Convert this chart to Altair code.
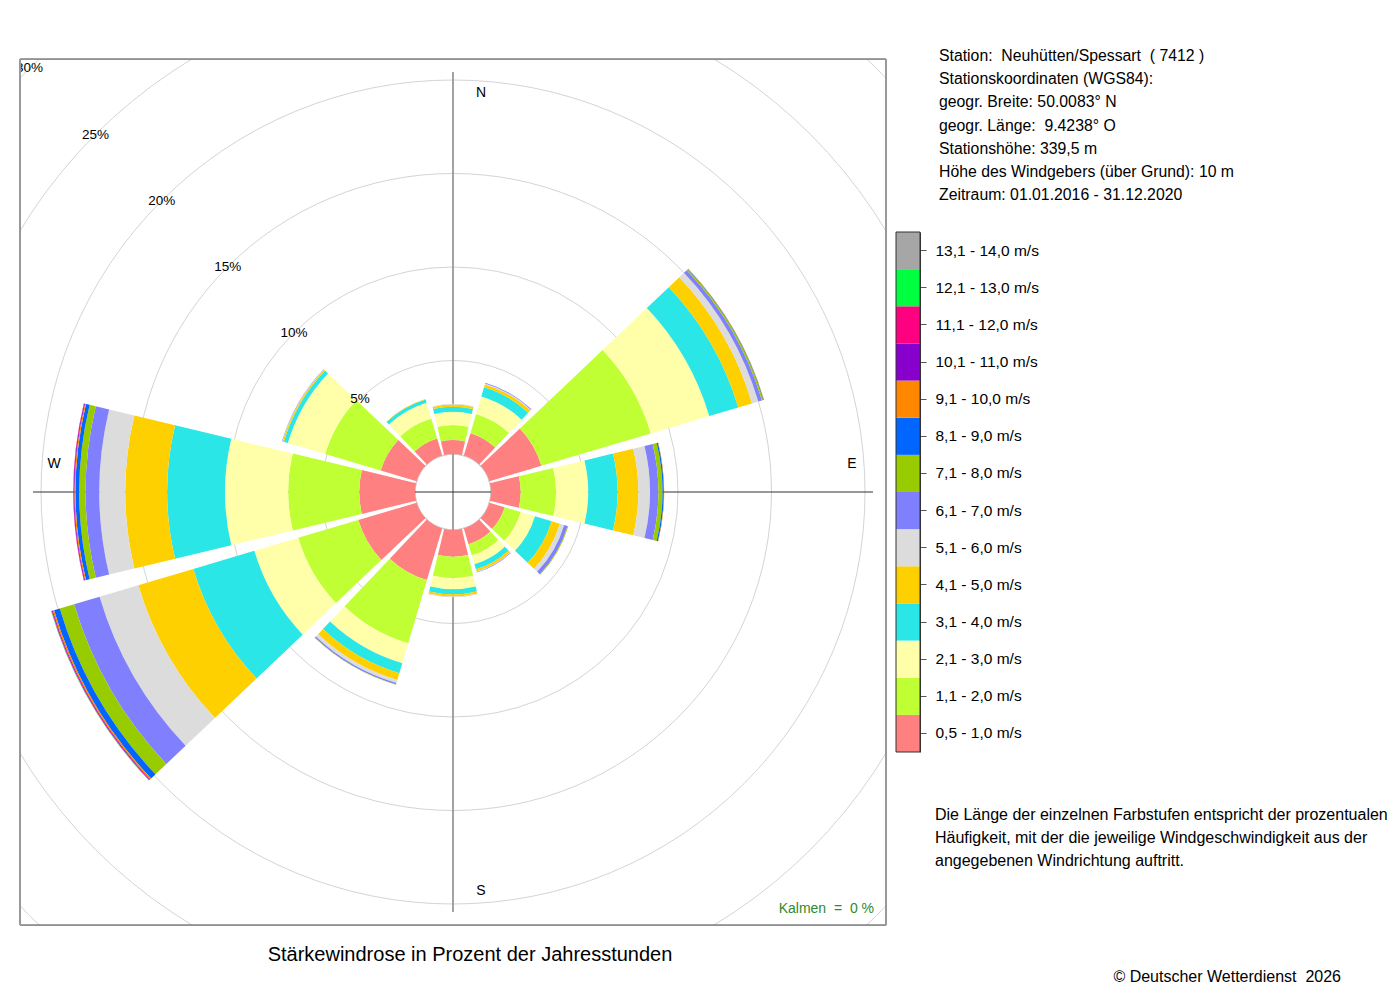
import math
import altair as alt
import pandas as pd

FONT = "Liberation Sans"
NB = "\u00a0"

# ---------------- data ----------------
directions = [0, 30, 60, 90, 120, 150, 180, 210, 240, 270, 300, 330]

speed_classes = [
    "0,5 - 1,0 m/s", "1,1 - 2,0 m/s", "2,1 - 3,0 m/s", "3,1 - 4,0 m/s",
    "4,1 - 5,0 m/s", "5,1 - 6,0 m/s", "6,1 - 7,0 m/s", "7,1 - 8,0 m/s",
    "8,1 - 9,0 m/s", "9,1 - 10,0 m/s", "10,1 - 11,0 m/s", "11,1 - 12,0 m/s",
    "12,1 - 13,0 m/s", "13,1 - 14,0 m/s",
]
class_colors = [
    "#ff8080", "#bfff33", "#ffffaa", "#2ae6e6", "#ffd000", "#dcdcdc", "#8080ff",
    "#99cc00", "#0066ff", "#ff8800", "#8800cc", "#ff0080", "#00ff40", "#a6a6a6",
]

# percentage of hours per speed class, one value per direction (0°, 30°, ... 330°)
p_05_10 = [0.75, 1.25, 2.90, 1.59, 0.85, 0.88, 1.43, 2.88, 3.25, 2.98, 2.00, 0.95]
p_11_20 = [0.80, 1.07, 6.10, 1.89, 0.90, 0.62, 1.15, 3.52, 3.35, 3.80, 3.10, 1.12]
p_21_30 = [0.71, 0.98, 3.26, 1.72, 0.79, 0.50, 0.59, 1.12, 2.45, 3.38, 2.08, 0.88]
p_31_40 = [0.27, 0.51, 1.62, 1.57, 0.93, 0.28, 0.27, 0.55, 3.40, 3.09, 0.22, 0.17]
p_41_50 = [0.11, 0.16, 0.77, 1.11, 0.46, 0.12, 0.11, 0.38, 3.07, 2.24, 0.07, 0.03]
p_51_60 = [0.05, 0.05, 0.35, 0.62, 0.24, 0.03, 0.05, 0.17, 2.16, 1.39, 0.02, 0.00]
p_61_70 = [0.00, 0.04, 0.20, 0.45, 0.19, 0.03, 0.00, 0.08, 1.42, 0.73, 0.02, 0.00]
p_71_80 = [0.00, 0.00, 0.07, 0.22, 0.04, 0.00, 0.00, 0.02, 0.80, 0.34, 0.00, 0.00]
p_81_90 = [0.00, 0.00, 0.03, 0.07, 0.00, 0.00, 0.00, 0.00, 0.32, 0.20, 0.00, 0.00]
p_91_100 = [0.00, 0.00, 0.02, 0.02, 0.00, 0.00, 0.00, 0.00, 0.08, 0.06, 0.00, 0.00]
p_101_110 = [0.00, 0.00, 0.00, 0.00, 0.00, 0.00, 0.00, 0.00, 0.04, 0.04, 0.00, 0.00]
p_111_120 = [0.00, 0.00, 0.00, 0.00, 0.00, 0.00, 0.00, 0.00, 0.03, 0.02, 0.00, 0.00]
p_121_130 = [0.00, 0.00, 0.00, 0.00, 0.00, 0.00, 0.00, 0.00, 0.02, 0.00, 0.00, 0.00]
p_131_140 = [0.00, 0.00, 0.00, 0.00, 0.00, 0.00, 0.00, 0.00, 0.00, 0.00, 0.00, 0.00]

series = [p_05_10, p_11_20, p_21_30, p_31_40, p_41_50, p_51_60, p_61_70,
          p_71_80, p_81_90, p_91_100, p_101_110, p_111_120, p_121_130, p_131_140]

ring_values = [5, 10, 15, 20, 25, 30]
ring_labels = ["5%", "10%", "15%", "20%", "25%", "30%"]

ns_dirs = [0, 180]
ns_labels = ["N", "S"]
ew_dirs = [90, 270]
ew_labels = ["E", "W"]

station_lines = [
    "Station:  Neuhütten/Spessart  ( 7412 )",
    "Stationskoordinaten (WGS84):",
    "geogr. Breite: 50.0083° N",
    "geogr. Länge:   9.4238° O",
    "Stationshöhe: 339,5 m",
    "Höhe des Windgebers (über Grund): 10 m",
    "Zeitraum: 01.01.2016 - 31.12.2020",
]
note_lines = [
    "Die Länge der einzelnen Farbstufen entspricht der prozentualen",
    "Häufigkeit, mit der die jeweilige Windgeschwindigkeit aus der",
    "angegebenen Windrichtung auftritt.",
]
title_text = "Stärkewindrose in Prozent der Jahresstunden"
calm_text = "Kalmen  =  0 %"
copyright_text = "© Deutscher Wetterdienst  2026"


def keep_spaces(s):
    return s.replace("  ", NB + " ")


# ---------------- tables ----------------
rows = []
for i, d in enumerate(directions):
    cum = 0.0
    for k, s in enumerate(series):
        v = s[i]
        if v > 0:
            rows.append({"dir": d, "cls": speed_classes[k], "r0": cum, "r1": cum + v})
            cum += v
bars_df = pd.DataFrame(rows)
rings_df = pd.DataFrame({"pct": ring_values, "label": ring_labels})
ns_df = pd.DataFrame({"dir": ns_dirs, "label": ns_labels})
ew_df = pd.DataFrame({"dir": ew_dirs, "label": ew_labels})
legend_df = pd.DataFrame({"cls": speed_classes})
one = pd.DataFrame({"k": [0]})

# ---------------- layout ----------------
W = H = 866
CX, CY = W / 2, H / 2
AX = 420  # half-length of the cross lines
HALF = 13.5  # half angular width of a sector
LABEL_R = 19.3  # radius (in %) of the compass letters

rscale = alt.Scale(type="linear", domain=[0, 20], range=[38, 412])
cscale = alt.Scale(domain=speed_classes, range=class_colors)

grid = alt.Chart(rings_df).mark_arc(
    fillOpacity=0, stroke="#d4d4d4", strokeWidth=1, clip=True
).encode(
    theta=alt.value(0),
    theta2=alt.value(2 * math.pi),
    radius=alt.Radius("pct:Q", scale=rscale, stack=None),
)

vline = alt.Chart(one).mark_rule(color="#8c8c8c", strokeWidth=1.6).encode(
    x=alt.value(CX), y=alt.value(CY - AX), y2=alt.value(CY + AX)
)
hline = alt.Chart(one).mark_rule(color="#333333", strokeWidth=1).encode(
    y=alt.value(CY), x=alt.value(CX - AX), x2=alt.value(CX + AX)
)

bars = alt.Chart(bars_df).transform_calculate(
    t0=f"((datum.dir + 360 - {HALF}) % 360) * PI / 180",
    t1=f"((datum.dir + 360 - {HALF}) % 360 + {2 * HALF}) * PI / 180",
).mark_arc().encode(
    theta=alt.Theta("t0:Q", scale=None, stack=None),
    theta2="t1:Q",
    radius=alt.Radius("r1:Q", scale=rscale, stack=None),
    radius2="r0:Q",
    color=alt.Color("cls:N", scale=cscale, legend=None),
)

pct_text = alt.Chart(rings_df).mark_text(
    font=FONT, fontSize=13.5, color="black", clip=True
).encode(
    theta=alt.value(315 * math.pi / 180),
    radius=alt.Radius("pct:Q", scale=rscale, stack=None),
    text="label:N",
)


def compass(df, **offset):
    return alt.Chart(df).transform_calculate(
        t="datum.dir * PI / 180", rr=str(LABEL_R)
    ).mark_text(font=FONT, fontSize=14, color="black", **offset).encode(
        theta=alt.Theta("t:Q", scale=None, stack=None),
        radius=alt.Radius("rr:Q", scale=rscale, stack=None),
        text="label:N",
    )


ns_text = compass(ns_df, dx=28)
ew_text = compass(ew_df, dy=-28)

frame_top = alt.Chart(one).mark_rule(color="#444444", strokeWidth=1).encode(
    x=alt.value(0), x2=alt.value(W), y=alt.value(0))
frame_bottom = alt.Chart(one).mark_rule(color="#444444", strokeWidth=1).encode(
    x=alt.value(0), x2=alt.value(W), y=alt.value(H))
frame_left = alt.Chart(one).mark_rule(color="#999999", strokeWidth=2).encode(
    x=alt.value(0), y=alt.value(0), y2=alt.value(H))
frame_right = alt.Chart(one).mark_rule(color="#999999", strokeWidth=2).encode(
    x=alt.value(W), y=alt.value(0), y2=alt.value(H))

calm = alt.Chart(one).mark_text(
    font=FONT, fontSize=14, color="#2e8b2e", align="right", baseline="alphabetic"
).encode(x=alt.value(854), y=alt.value(854), text=alt.value(keep_spaces(calm_text)))

title = alt.Chart(one).mark_text(
    font=FONT, fontSize=20, color="black", align="center", baseline="alphabetic"
).encode(x=alt.value(450), y=alt.value(902), text=alt.value(title_text))

copyright_mark = alt.Chart(one).mark_text(
    font=FONT, fontSize=16, color="black", align="right", baseline="alphabetic"
).encode(x=alt.value(1321), y=alt.value(923), text=alt.value(keep_spaces(copyright_text)))

info = alt.Chart(pd.DataFrame({"t": ["\n".join(keep_spaces(s) for s in station_lines)]})).mark_text(
    font=FONT, fontSize=15.8, color="black", align="left", baseline="alphabetic",
    lineBreak="\n", lineHeight=23.2,
).encode(x=alt.value(919), y=alt.value(2), text="t:N")

note = alt.Chart(pd.DataFrame({"t": ["\n".join(note_lines)]})).mark_text(
    font=FONT, fontSize=16, color="black", align="left", baseline="alphabetic",
    lineBreak="\n", lineHeight=23,
).encode(x=alt.value(915), y=alt.value(761), text="t:N")

LEG_TOP, LEG_BOTTOM = 173, 693
legend_rects = alt.Chart(legend_df).mark_rect().encode(
    x=alt.value(876),
    x2=alt.value(900),
    y=alt.Y(
        "cls:N",
        sort=list(reversed(speed_classes)),
        scale=alt.Scale(range=[LEG_TOP, LEG_BOTTOM], paddingInner=0, paddingOuter=0),
        axis=alt.Axis(
            orient="right", offset=34, title=None, grid=False,
            tickSize=6, tickColor="#555555", tickWidth=1,
            domainColor="#333333", domainWidth=1,
            labelFont=FONT, labelFontSize=15.5, labelColor="black",
            labelPadding=9, labelLimit=300,
        ),
    ),
    color=alt.Color("cls:N", scale=cscale, legend=None),
)
legend_box = alt.Chart(one).mark_rect(
    fillOpacity=0, stroke="#333333", strokeWidth=1
).encode(x=alt.value(876), x2=alt.value(900), y=alt.value(LEG_TOP), y2=alt.value(LEG_BOTTOM))

chart = alt.layer(
    grid, vline, hline, bars, pct_text, ns_text, ew_text,
    frame_top, frame_bottom, frame_left, frame_right,
    calm, title, copyright_mark, info, note, legend_rects, legend_box,
).properties(
    width=W,
    height=H,
    autosize=alt.AutoSizeParams(type="none"),
    padding={"left": 12, "top": 51, "right": 505, "bottom": 70},
    background="white",
).configure_view(strokeWidth=0).configure(font=FONT)

chart.save("out.html", embed_options={"renderer": "svg", "actions": False})
